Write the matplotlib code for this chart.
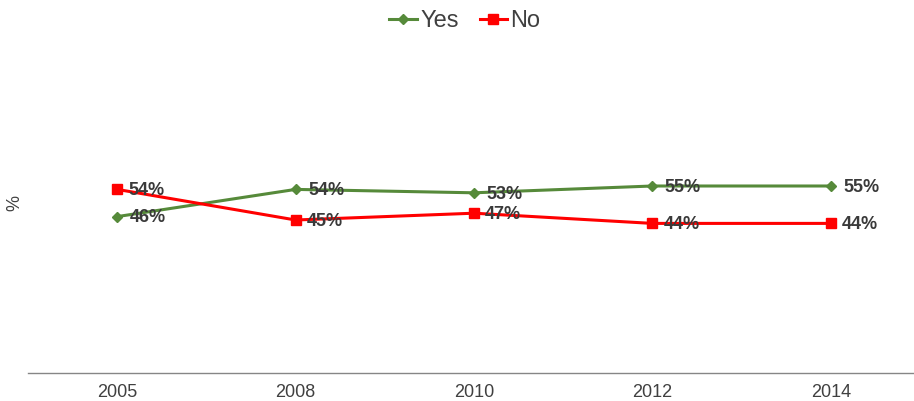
import matplotlib
matplotlib.use("Agg")
import matplotlib.pyplot as plt

years = ["2005", "2008", "2010", "2012", "2014"]
yes_vals = [46, 54, 53, 55, 55]
no_vals = [54, 45, 47, 44, 44]

plt.rcParams['font.family'] = ['Liberation Sans', 'DejaVu Sans']

fig = plt.figure(figsize=(9.14, 4.01), dpi=100)
ax = fig.add_axes([28/914, (401-373)/401, 892/914, 340/401])

x = list(range(len(years)))
green = "#568A3A"
red = "#FF0000"
ax.plot(x, yes_vals, color=green, lw=2.2, marker="D", ms=5, label="Yes", zorder=3)
ax.plot(x, no_vals, color=red, lw=2.2, marker="s", ms=7, label="No", zorder=3)

for xi, v in zip(x, yes_vals):
    ax.annotate(f"{v}%", (xi, v), xytext=(9, -1), textcoords="offset points",
                ha="left", va="center", fontsize=13, fontweight="bold", color="#3a3a3a")
for xi, v in zip(x, no_vals):
    ax.annotate(f"{v}%", (xi, v), xytext=(8, -1), textcoords="offset points",
                ha="left", va="center", fontsize=13, fontweight="bold", color="#3a3a3a")

ax.set_xlim(-0.5, len(years) - 0.5)
ax.set_ylim(0, 100)
ax.set_xticks(x)
ax.set_xticklabels(years, fontsize=13, color="#404040")
ax.tick_params(axis="x", length=0, pad=8)
ax.set_yticks([])
for s in ["top", "right", "left"]:
    ax.spines[s].set_visible(False)
ax.spines["bottom"].set_color("#868686")
ax.spines["bottom"].set_linewidth(1)

fig.text(15/914, 1 - 203/401, "%", rotation=90, ha="center", va="center",
         fontsize=13, color="#404040")

leg = fig.legend(loc="center", bbox_to_anchor=(465/914, 1 - 21/401), ncol=2, frameon=False,
                 fontsize=17, handlelength=1.15, handletextpad=0.15, columnspacing=0.9,
                 labelcolor="#404040")

fig.savefig("out.png", dpi=100)
